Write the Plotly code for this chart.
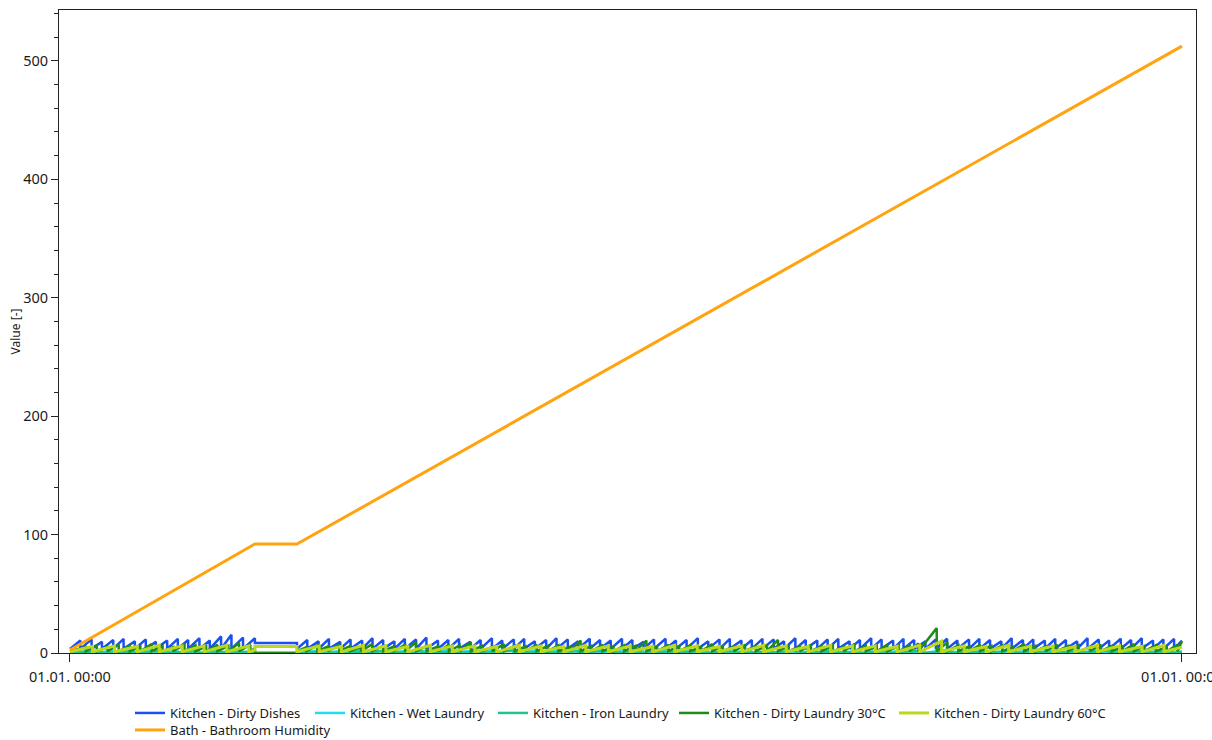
import plotly.graph_objects as go

# ---- time axis: days since 01.01. 00:00 (one full year) ----
X_TICKS = [0, 365]
X_TICK_TEXT = ["01.01. 00:00", "01.01. 00:00"]
BREAK_DAYS = [60.7, 74.5]  # holiday period where nothing changes

# ---- Bath - Bathroom Humidity (cumulative) ----
bath_days = [0, 7, 14, 21, 28, 35, 42, 49, 56, 60.7, 74.5, 81, 88, 95, 102, 109, 116,
             123, 130, 137, 144, 151, 158, 165, 172, 179, 186, 193, 200, 207, 214, 221,
             228, 235, 242, 249, 256, 263, 270, 277, 284, 291, 298, 305, 312, 319, 326,
             333, 340, 347, 354, 361, 365]
bath_vals = [2.5, 12.8, 23.0, 33.3, 43.5, 53.8, 64.1, 74.3, 84.6, 92.0, 92.0, 101.4, 111.5,
             121.6, 131.8, 141.9, 152.0, 162.1, 172.3, 182.4, 192.5, 202.6, 212.7, 222.9,
             233.0, 243.1, 253.2, 263.4, 273.5, 283.6, 293.7, 303.8, 314.0, 324.1, 334.2,
             344.3, 354.5, 364.6, 374.7, 384.8, 394.9, 405.1, 415.2, 425.3, 435.4, 445.6,
             455.7, 465.8, 475.9, 486.0, 496.2, 506.3, 512.5]

# ---- Kitchen - Dirty Dishes ----
dish_base = 3.5
dish_hold = 8.5
dish_starts_a = [0, 3.4, 7.1, 10.5, 14.2, 17.6, 21.3, 24.9, 28.2, 31.9, 35.4, 38.8, 42.5,
                 45.9, 49.6, 53.0, 56.8, 60.7]
dish_peaks_a = [10.5, 11.5, 9.5, 11, 12, 10, 11.5, 9.5, 10.5, 12, 11, 12.5, 10.5, 14, 15.5,
                13, 12.5]
dish_starts_b = [74.5, 77.9, 81.6, 85.0, 88.7, 92.1, 95.9, 99.3, 102.8, 106.5,
                 109.9, 113.6, 117.0, 120.8, 124.2, 127.7, 131.4, 134.8, 138.5, 141.9,
                 145.7, 149.1, 152.6, 156.3, 159.7, 163.4, 166.8, 170.6, 174.0, 177.5,
                 181.2, 184.6, 188.3, 191.7, 195.5, 198.9, 202.4, 206.1, 209.5, 213.2,
                 216.6, 220.4, 223.8, 227.3, 231.0, 234.4, 238.1, 241.5, 245.3, 248.7,
                 252.2, 255.9, 259.3, 263.0, 266.4, 270.2, 273.6, 277.1, 280.8, 284.2,
                 287.9, 291.3, 295.1, 298.5, 302.0, 305.7, 309.1, 312.8, 316.2, 320.0,
                 323.4, 326.9, 330.6, 334.0, 337.7, 341.1, 344.9, 348.3, 351.8, 355.5,
                 358.9, 362.4, 365.0]
dish_peaks_b = [11, 10, 12, 9.5, 11.5, 10.5, 12.5, 11, 10, 12,
                11.5, 13, 10.5, 11, 12, 9.5, 11, 12.5, 10.5, 11.5,
                12, 10, 11, 12.5, 11.5, 10, 12, 11, 10.5, 12,
                11, 9.5, 11.5, 12, 10.5, 11, 12.5, 10, 11.5, 12,
                10.5, 11, 12, 11.5, 10, 12.5, 11, 10.5, 11.5, 12,
                10, 11, 12.5, 11.5, 10.5, 12, 11, 10, 11.5, 12,
                10.5, 11.5, 12, 11, 10, 12.5, 11, 11.5, 10.5, 12,
                11, 10, 12.5, 11.5, 10.5, 12, 11, 12.5, 10.5, 11.5,
                12, 10.5]

# ---- Kitchen - Wet Laundry ----
wet_base = 0
wet_hold = 0
wet_starts_a = [0, 6.8, 13.9, 21.0, 28.1, 35.2, 42.3, 49.4, 56.5, 60.7]
wet_peaks_a = [2, 1.5, 2.5, 2, 1.5, 2, 2.5, 1.5, 1]
wet_starts_b = [74.5, 81.6, 88.7, 95.8, 102.9, 110.0, 117.1, 124.2, 131.3, 138.4, 145.5,
                152.6, 159.7, 166.8, 173.9, 181.0, 188.1, 195.2, 202.3, 209.4, 216.5,
                223.6, 230.7, 237.8, 244.9, 252.0, 259.1, 266.2, 273.3, 280.4, 287.5,
                294.6, 301.7, 308.8, 315.9, 323.0, 330.1, 337.2, 344.3, 351.4, 358.5, 365.0]
wet_peaks_b = [2, 1.5, 2.5, 2, 1.5, 2, 2.5, 1.5, 2, 3,
               2, 1.5, 2, 3, 1.5, 2, 2.5, 2, 1.5, 2,
               2.5, 2, 1.5, 2, 2.5, 1.5, 2, 2, 1.5, 2.5,
               2, 1.5, 2, 2.5, 2, 1.5, 2, 2.5, 1.5, 2,
               1.5]

# ---- Kitchen - Iron Laundry ----
iron_base = 0
iron_hold = 0
iron_starts_a = [0, 10.2, 20.5, 30.7, 41.0, 51.2, 60.7]
iron_peaks_a = [1.5, 1, 2, 1.5, 1, 1.5]
iron_starts_b = [74.5, 84.8, 95.0, 105.3, 115.5, 125.8, 136.0, 146.3, 156.5, 166.8, 177.0,
                 187.3, 197.5, 207.8, 218.0, 228.3, 238.5, 248.8, 259.0, 269.3, 279.5,
                 289.8, 300.0, 310.3, 320.5, 330.8, 341.0, 351.3, 361.5, 365.0]
iron_peaks_b = [1.5, 1, 2, 1.5, 1, 1.5, 2, 1, 1.5, 2,
                1, 1.5, 2, 1.5, 1, 2, 1.5, 1, 1.5, 2,
                1, 1.5, 2, 1, 1.5, 2, 1.5, 1, 0.5]

# ---- Kitchen - Dirty Laundry 30°C ----
d30_base = 1.5
d30_hold = 0
d30_starts_a = [0, 5.2, 8.8, 12.3, 16.0, 19.6, 23.1, 26.8, 30.4, 33.9, 37.6, 41.2, 44.7,
                48.4, 52.0, 55.5, 59.2, 60.7]
d30_peaks_a = [5, 6.5, 5, 7, 6, 5.5, 7.5, 6, 5, 8, 6.5, 5.5, 7, 6, 8.5, 7, 4]
d30_starts_b = [74.5, 77.6, 81.2, 84.7, 88.4, 92.0, 95.5, 99.2, 102.8, 106.3,
                110.0, 113.6, 117.1, 120.8, 124.4, 127.9, 131.6, 135.2, 138.7, 142.4,
                146.0, 149.5, 153.2, 156.8, 160.3, 164.0, 167.6, 171.1, 174.8, 178.4,
                181.9, 185.6, 189.2, 192.7, 196.4, 200.0, 203.5, 207.2, 210.8, 214.3,
                218.0, 221.6, 225.1, 228.8, 232.4, 235.9, 239.6, 243.2, 246.7, 250.4,
                254.0, 257.5, 261.2, 264.8, 268.3, 272.0, 275.6, 278.5, 284.5, 288.0,
                291.6, 295.2, 298.7, 302.4, 306.0, 309.5, 313.2, 316.8, 320.3, 324.0,
                327.6, 331.1, 334.8, 338.4, 341.9, 345.6, 349.2, 352.7, 356.4, 360.0,
                363.5, 365.0]
d30_peaks_b = [5, 6.5, 5.5, 7, 6, 5, 7.5, 6, 5.5, 7,
               9, 6, 5.5, 7, 6.5, 9, 6, 5, 7.5, 6,
               5.5, 7, 6, 6.5, 5, 10.5, 6, 7, 5.5, 6.5,
               6, 10.5, 5.5, 7, 6, 6.5, 5, 7.5, 6, 5.5,
               7, 6, 6.5, 11, 6, 5.5, 7, 6, 6.5, 5,
               7.5, 6, 5.5, 7, 6.5, 6, 8, 21, 9, 6.5,
               5.5, 7, 6, 6.5, 5, 7.5, 6, 5.5, 7, 6,
               6.5, 5, 7, 6, 5.5, 7.5, 6, 6.5, 5, 7,
               10]

# ---- Kitchen - Dirty Laundry 60°C ----
d60_base = 1
d60_hold = 5.5
d60_starts_a = [0, 7.4, 14.6, 22.1, 29.3, 36.8, 44.0, 51.5, 58.7, 60.7]
d60_peaks_a = [5.5, 6, 5.5, 6.5, 6, 6, 6.5, 6, 2.5]
d60_starts_b = [74.5, 81.8, 89.1, 96.3, 103.7, 110.9, 118.3, 125.5, 132.9, 140.1, 147.5,
                154.7, 162.1, 169.3, 176.7, 183.9, 191.3, 198.5, 205.9, 213.1, 220.5,
                227.7, 235.1, 242.3, 249.7, 256.9, 264.3, 271.5, 278.9, 286.1, 293.5,
                300.7, 308.1, 315.3, 322.7, 329.9, 337.3, 344.5, 351.9, 359.1, 365.0]
d60_peaks_b = [6, 5.5, 6.5, 6, 5.5, 6.5, 6, 6, 5.5, 6.5,
               6, 5.5, 6.5, 6, 6, 5.5, 6.5, 6, 5.5, 6,
               6.5, 6, 5.5, 6.5, 6, 6, 5.5, 6.5, 10, 6,
               5.5, 6.5, 6, 6, 5.5, 6.5, 6, 5.5, 6.5, 5]


def ramps(starts, peaks, base):
    """Each counter climbs from its base to the listed peak, then is reset."""
    xs, ys = [], []
    for i, p in enumerate(peaks):
        xs += [starts[i], starts[i + 1]]
        ys += [base, p]
    return xs, ys


def counter_series(starts_a, peaks_a, starts_b, peaks_b, base, hold):
    xa, ya = ramps(starts_a, peaks_a, base)
    xb, yb = ramps(starts_b, peaks_b, base)
    return xa + BREAK_DAYS + xb, ya + [hold, hold] + yb


# name, colour, line width, legend slot width, legend, data
series = [
    ("Kitchen - Dirty Dishes", "#1a4ff2", 2.5, 135, "legend",
     counter_series(dish_starts_a, dish_peaks_a, dish_starts_b, dish_peaks_b, dish_base, dish_hold)),
    ("Kitchen - Wet Laundry", "#22dcf2", 2.5, 138, "legend",
     counter_series(wet_starts_a, wet_peaks_a, wet_starts_b, wet_peaks_b, wet_base, wet_hold)),
    ("Kitchen - Iron Laundry", "#1fc48e", 2.5, 136, "legend",
     counter_series(iron_starts_a, iron_peaks_a, iron_starts_b, iron_peaks_b, iron_base, iron_hold)),
    ("Kitchen - Dirty Laundry 30°C", "#1f8c1a", 2.5, 175, "legend",
     counter_series(d30_starts_a, d30_peaks_a, d30_starts_b, d30_peaks_b, d30_base, d30_hold)),
    ("Kitchen - Dirty Laundry 60°C", "#bcd81c", 3, 180, "legend",
     counter_series(d60_starts_a, d60_peaks_a, d60_starts_b, d60_peaks_b, d60_base, d60_hold)),
    ("Bath - Bathroom Humidity", "#ffa30f", 3, 180, "legend2", (bath_days, bath_vals)),
]

FONT = "Noto Sans"
TEXT = "#1a1a1a"

fig = go.Figure()
for name, color, width, lw, leg, (xs, ys) in series:
    fig.add_trace(go.Scatter(x=xs, y=ys, mode="lines", name=name, legend=leg,
                             legendwidth=lw, line=dict(color=color, width=width)))

legend_common = dict(orientation="h", xref="container", yref="container",
                     xanchor="left", yanchor="top",
                     font=dict(family=FONT, size=13, color=TEXT),
                     bgcolor="rgba(0,0,0,0)", borderwidth=0, traceorder="normal",
                     itemwidth=30)

fig.update_layout(
    template="none",
    width=1212, height=740,
    margin=dict(l=59, r=16, t=10, b=87, pad=0, autoexpand=False),
    paper_bgcolor="white", plot_bgcolor="white",
    font=dict(family=FONT, size=13, color=TEXT),
    showlegend=True,
    legend=dict(x=130 / 1212, y=1 - 698 / 740, **legend_common),
    legend2=dict(x=130 / 1212, y=1 - 715 / 740, **legend_common),
)

fig.update_xaxes(
    range=[-3.6, 369.6], tickmode="array", tickvals=X_TICKS, ticktext=X_TICK_TEXT,
    ticks="outside", ticklen=8, tickwidth=1, tickcolor="#222",
    showgrid=False, zeroline=False,
    showline=True, linecolor="#222", linewidth=1, mirror=True,
    ticklabeloverflow="allow", ticklabelstandoff=3, automargin=False,
    tickfont=dict(family=FONT, size=14.5, color=TEXT),
)

fig.update_yaxes(
    range=[0, 543], tickmode="linear", tick0=0, dtick=100,
    ticks="outside", ticklen=7, tickwidth=1, tickcolor="#222",
    minor=dict(dtick=20, ticks="outside", ticklen=4, tickcolor="#222", showgrid=False),
    showgrid=False, zeroline=False,
    showline=True, linecolor="#222", linewidth=1, mirror=True,
    automargin=False,
    title=dict(text="Value [-]", font=dict(family=FONT, size=12, color=TEXT), standoff=0),
    tickfont=dict(family=FONT, size=14.5, color=TEXT),
)

fig.write_html("out.html")
